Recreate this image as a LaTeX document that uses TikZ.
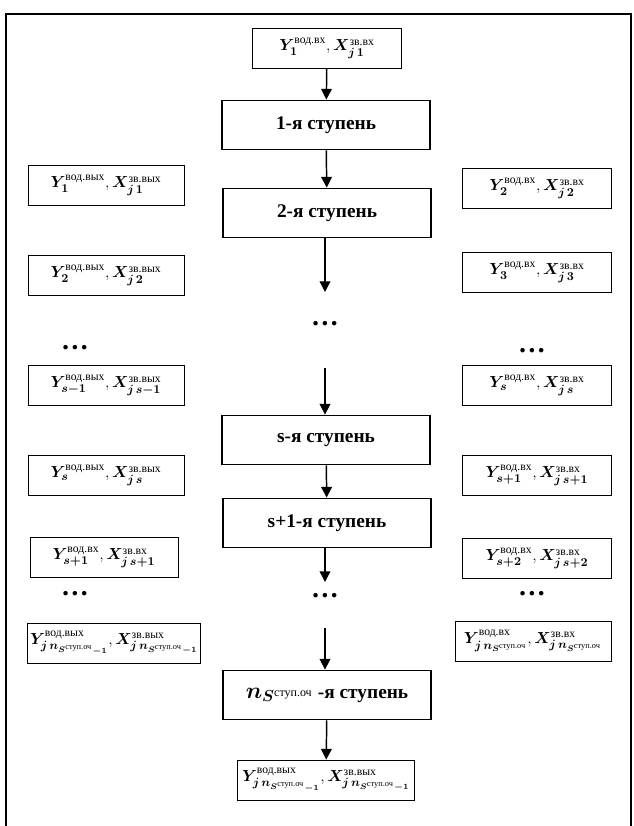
\documentclass[tikz,border=0pt]{standalone}
\usepackage{amsmath}
\usepackage{bm}
\usepackage{fontspec}
\setmainfont{Liberation Serif}
\usetikzlibrary{arrows.meta, positioning}

% superscript text in upright font
\newcommand{\up}[1]{\text{\normalfont #1}}
\newcommand{\nS}{\bm{n}_{\bm{S}^{\up{ступ.оч}}}}
\newcommand{\nSm}{{\nS}_{\bm{-1}}}

\begin{document}
\begin{tikzpicture}[
    x=0.75pt, y=-0.75pt,
    stagebox/.style={draw, line width=1.1pt, minimum width=156pt, minimum height=37pt, align=center, font=\bfseries\fontsize{14.5}{16}\selectfont},
    databox/.style={draw, semithick, minimum width=112pt, minimum height=30pt, align=center, font=\fontsize{12.5}{14}\selectfont},
    arr/.style={-{Triangle[length=8pt, width=8pt]}, line width=1.1pt},
    dots/.style={font=\bfseries\huge}
]
    \useasboundingbox (0,0) rectangle (634,826);
    \draw[very thick] (6,826) -- (6,14) -- (631,14) -- (631,826);

    % central chain
    \node[databox] (inp) at (327,48) {$\bm{Y}_{\bm1}^{\up{вод.вх}}, \bm{X}_{\bm{j}\,\bm1}^{\up{зв.вх}}$};
    \node[stagebox] (st1) at (326,125) {1-я ступень};
    \node[stagebox] (st2) at (327,213) {2-я ступень};
    \node[dots] (cdots1) at (325,324) {\ldots};
    \node[stagebox] (sts) at (326,440) {s-я ступень};
    \node[stagebox] (sts1) at (327,523) {s+1-я ступень};
    \node[dots] (cdots2) at (325,596) {\ldots};
    \node[stagebox] (stn) at (327,695) {{\fontsize{18}{20}\selectfont$\nS$}\ -я ступень};
    \node[databox, minimum width=130pt] (out) at (326,780) {$\bm{Y}_{\bm{j}\,\nSm}^{\up{вод.вых}}, \bm{X}_{\bm{j}\,\nSm}^{\up{зв.вых}}$};

    \coordinate (c1) at (325,292);
    \coordinate (c2) at (325,368);
    \coordinate (c3) at (325,582);
    \coordinate (c4) at (325,628);

    \draw[arr] (inp) -- (st1);
    \draw[arr] (st1) -- (st2);
    \draw[arr] (st2.south -| c1) -- (c1);
    \draw[arr] (c2) -- (sts.north -| c2);
    \draw[arr] (sts) -- (sts1);
    \draw[arr] (sts1.south -| c3) -- (c3);
    \draw[arr] (c4) -- (stn.north -| c4);
    \draw[arr] (stn) -- (out);

    % left column (outputs)
    \node[databox, minimum width=117pt] (l1) at (106,185) {$\bm{Y}_{\bm1}^{\up{вод.вых}}, \bm{X}_{\bm{j}\,\bm1}^{\up{зв.вых}}$};
    \node[databox, minimum width=117pt] (l2) at (106,275) {$\bm{Y}_{\bm2}^{\up{вод.вых}}, \bm{X}_{\bm{j}\,\bm2}^{\up{зв.вых}}$};
    \node[dots] (ldots1) at (75,348) {\ldots};
    \node[databox, minimum width=117pt] (l3) at (106,385) {$\bm{Y}_{\bm{s-1}}^{\up{вод.вых}}, \bm{X}_{\bm{j}\,\bm{s-1}}^{\up{зв.вых}}$};
    \node[databox, minimum width=117pt] (l4) at (106,475) {$\bm{Y}_{\bm{s}}^{\up{вод.вых}}, \bm{X}_{\bm{j}\,\bm{s}}^{\up{зв.вых}}$};
    \node[databox, minimum width=111pt] (l5) at (104,557) {$\bm{Y}_{\bm{s+1}}^{\up{вод.вх}}, \bm{X}_{\bm{j}\,\bm{s+1}}^{\up{зв.вх}}$};
    \node[dots] (ldots2) at (75,594) {\ldots};
    \node[databox, minimum width=129pt, inner xsep=2pt] (l6) at (114,643) {$\bm{Y}_{\bm{j}\,\nSm}^{\up{вод.вых}}, \bm{X}_{\bm{j}\,\nSm}^{\up{зв.вых}}$};

    % right column (inputs)
    \node[databox] (r1) at (537,188) {$\bm{Y}_{\bm2}^{\up{вод.вх}}, \bm{X}_{\bm{j}\,\bm2}^{\up{зв.вх}}$};
    \node[databox] (r2) at (537,272) {$\bm{Y}_{\bm3}^{\up{вод.вх}}, \bm{X}_{\bm{j}\,\bm3}^{\up{зв.вх}}$};
    \node[dots] (rdots1) at (532,351) {\ldots};
    \node[databox] (r3) at (537,385) {$\bm{Y}_{\bm{s}}^{\up{вод.вх}}, \bm{X}_{\bm{j}\,\bm{s}}^{\up{зв.вх}}$};
    \node[databox] (r4) at (537,475) {$\bm{Y}_{\bm{s+1}}^{\up{вод.вх}}, \bm{X}_{\bm{j}\,\bm{s+1}}^{\up{зв.вх}}$};
    \node[databox] (r5) at (537,558) {$\bm{Y}_{\bm{s+2}}^{\up{вод.вх}}, \bm{X}_{\bm{j}\,\bm{s+2}}^{\up{зв.вх}}$};
    \node[dots] (rdots2) at (532,594) {\ldots};
    \node[databox, minimum width=117pt, inner xsep=2pt] (r6) at (533,641) {$\bm{Y}_{\bm{j}\,\nS}^{\up{вод.вх}}, \bm{X}_{\bm{j}\,\nS}^{\up{зв.вх}}$};
\end{tikzpicture}
\end{document}
